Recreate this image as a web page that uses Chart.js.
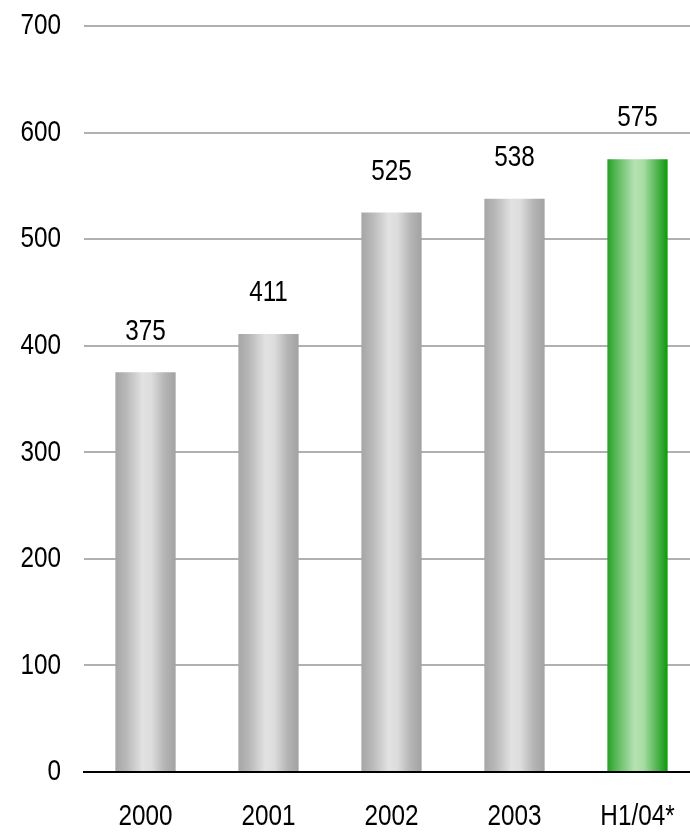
<!DOCTYPE html>
<html>
<head>
<meta charset="utf-8">
<title>Volume</title>
<script src="https://cdn.jsdelivr.net/npm/chart.js@4/dist/chart.umd.min.js"></script>
<style>
  html, body { margin: 0; padding: 0; background: #fff; overflow: hidden; }
</style>
</head>
<body>
<canvas id="chart" width="699" height="834"></canvas>
<script>
// Data
const categories = ['2000', '2001', '2002', '2003', 'H1/04*'];
const values = [375, 411, 525, 538, 575];
const yTicks = [0, 100, 200, 300, 400, 500, 600, 700];

const FONT = '"Liberation Sans", Arial, sans-serif';
const NARROW = 0.81; // squeeze text horizontally to get a narrow face

// Horizontal "cylinder" shading for each bar
function barGradient(context) {
  const chart = context.chart;
  const xScale = chart.scales.x;
  if (!chart.chartArea || !xScale) return '#c0c0c0';
  const i = context.dataIndex;
  const center = xScale.getPixelForValue(i);
  const half = (chart.chartArea.width / categories.length) * 0.49 / 2;
  const g = chart.ctx.createLinearGradient(center - half, 0, center + half, 0);
  if (i === categories.length - 1) {
    g.addColorStop(0, '#25a025');
    g.addColorStop(0.15, '#5ab85a');
    g.addColorStop(0.45, '#b6e2b2');
    g.addColorStop(0.6, '#a8dca4');
    g.addColorStop(0.85, '#48b048');
    g.addColorStop(1, '#0a9a0a');
  } else {
    g.addColorStop(0, '#a6a6a6');
    g.addColorStop(0.18, '#b8b8b8');
    g.addColorStop(0.45, '#e2e2e2');
    g.addColorStop(0.6, '#dcdcdc');
    g.addColorStop(0.82, '#b4b4b4');
    g.addColorStop(1, '#a2a2a2');
  }
  return g;
}

function narrowText(ctx, text, x, y, align) {
  ctx.save();
  ctx.translate(x, y);
  ctx.scale(NARROW, 1);
  ctx.textAlign = align;
  ctx.fillText(text, 0, 0);
  ctx.restore();
}

// Tick labels and bar values, drawn in a condensed face
const textLayer = {
  id: 'textLayer',
  afterDraw(chart) {
    const ctx = chart.ctx;
    const xScale = chart.scales.x;
    const yScale = chart.scales.y;
    const area = chart.chartArea;
    ctx.save();
    ctx.fillStyle = '#000';
    ctx.font = '30px ' + FONT;
    ctx.textBaseline = 'middle';

    yTicks.forEach(v => {
      narrowText(ctx, String(v), area.left - 23, yScale.getPixelForValue(v), 'right');
    });

    categories.forEach((c, i) => {
      narrowText(ctx, c, xScale.getPixelForValue(i), area.bottom + 45, 'center');
    });

    chart.getDatasetMeta(0).data.forEach((bar, i) => {
      narrowText(ctx, String(values[i]), bar.x, bar.y - 41, 'center');
    });
    ctx.restore();
  }
};

new Chart(document.getElementById('chart'), {
  type: 'bar',
  data: {
    labels: categories,
    datasets: [{
      data: values,
      backgroundColor: barGradient,
      borderWidth: 0,
      barPercentage: 0.49,
      categoryPercentage: 1
    }]
  },
  options: {
    responsive: false,
    animation: false,
    layout: { padding: { top: 26, right: 0, bottom: 0, left: 0 } },
    plugins: {
      legend: { display: false },
      tooltip: { enabled: false }
    },
    scales: {
      x: {
        afterFit(scale) {
          scale.height = 62;
        },
        grid: { display: false, drawTicks: false },
        border: { display: true, color: '#000', width: 2 },
        ticks: { display: false }
      },
      y: {
        min: 0,
        max: 700,
        afterBuildTicks(scale) {
          scale.ticks = yTicks.map(v => ({ value: v }));
        },
        afterFit(scale) {
          scale.width = 84;
        },
        grid: {
          color: '#b0b0b0',
          lineWidth: 2,
          drawTicks: false
        },
        border: { display: false },
        ticks: { display: false }
      }
    }
  },
  plugins: [textLayer]
});
</script>
</body>
</html>
